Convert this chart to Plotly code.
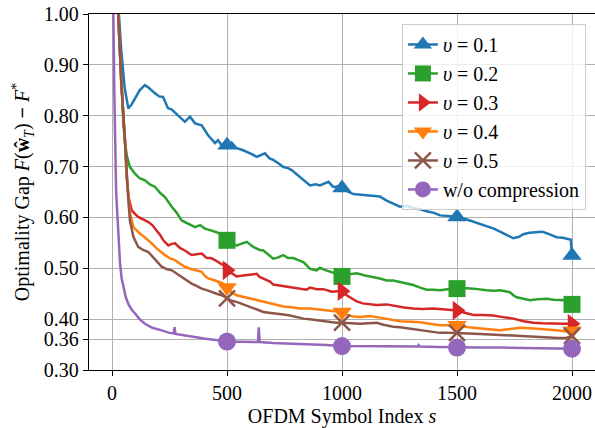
import plotly.graph_objects as go

# ---- data: optimality gap vs. OFDM symbol index ----
MARK_S = [500, 1000, 1500, 2000]

s_v01 = [0, 12, 27, 40, 55, 71, 85, 100, 120, 143, 160, 187, 205, 222, 243, 260, 274, 295, 317,
         339, 361, 390, 417, 448, 461, 481, 500, 520, 542, 565, 586, 610, 629, 645, 665, 685, 701,
         725, 745, 765, 781, 800, 817, 840, 861, 885, 904, 925, 941, 962, 980, 1000, 1020, 1049,
         1078, 1107, 1136, 1165, 1194, 1223, 1252, 1280, 1310, 1340, 1368, 1400, 1426, 1460, 1500,
         1530, 1557, 1590, 1629, 1660, 1687, 1715, 1745, 1770, 1788, 1815, 1846, 1870, 1890, 1915,
         1933, 1960, 1977, 1995, 2000]
gap_v01 = [1.9, 1.25, 1.02, 0.93, 0.855, 0.814, 0.822, 0.835, 0.85, 0.86, 0.855, 0.844, 0.838,
           0.837, 0.815, 0.812, 0.806, 0.798, 0.788, 0.798, 0.785, 0.781, 0.762, 0.746, 0.752, 0.739,
           0.742, 0.747, 0.736, 0.733, 0.729, 0.724, 0.719, 0.722, 0.726, 0.716, 0.713, 0.706, 0.699,
           0.697, 0.693, 0.686, 0.680, 0.672, 0.663, 0.665, 0.663, 0.667, 0.670, 0.660, 0.661, 0.658,
           0.652, 0.646, 0.645, 0.644, 0.643, 0.641, 0.633, 0.627, 0.621, 0.623, 0.618, 0.616, 0.612,
           0.609, 0.604, 0.603, 0.601, 0.598, 0.594, 0.589, 0.584, 0.578, 0.572, 0.566, 0.559, 0.562,
           0.567, 0.570, 0.571, 0.572, 0.569, 0.564, 0.561, 0.560, 0.558, 0.556, 0.525]

s_v02 = [0, 12, 27, 40, 50, 57, 65, 78, 100, 120, 143, 165, 187, 210, 230, 260, 280, 303, 332,
         361, 383, 404, 426, 455, 475, 500, 520, 542, 565, 586, 614, 643, 658, 680, 701, 720, 745,
         765, 788, 810, 832, 846, 861, 890, 904, 925, 948, 970, 1000, 1020, 1040, 1064, 1100, 1136,
         1165, 1194, 1223, 1252, 1280, 1310, 1340, 1368, 1400, 1426, 1460, 1500, 1530, 1571, 1600,
         1629, 1660, 1687, 1710, 1730, 1745, 1759, 1790, 1817, 1850, 1890, 1920, 1948, 1975, 1995,
         2000]
gap_v02 = [1.9, 1.25, 1.0, 0.87, 0.78, 0.746, 0.72, 0.699, 0.686, 0.677, 0.673, 0.665, 0.660,
           0.648, 0.640, 0.621, 0.610, 0.594, 0.588, 0.581, 0.585, 0.578, 0.575, 0.571, 0.566, 0.555,
           0.548, 0.545, 0.548, 0.552, 0.542, 0.536, 0.535, 0.526, 0.519, 0.521, 0.526, 0.520, 0.520,
           0.516, 0.512, 0.506, 0.499, 0.496, 0.501, 0.497, 0.494, 0.490, 0.484, 0.490, 0.489, 0.490,
           0.486, 0.483, 0.480, 0.476, 0.476, 0.473, 0.470, 0.467, 0.462, 0.458, 0.458, 0.457, 0.459,
           0.460, 0.461, 0.460, 0.458, 0.457, 0.456, 0.457, 0.455, 0.453, 0.447, 0.443, 0.440, 0.437,
           0.439, 0.440, 0.438, 0.437, 0.437, 0.437, 0.429]

s_v03 = [0, 12, 27, 40, 57, 64, 72, 86, 100, 114, 135, 158, 175, 194, 210, 223, 245, 260, 274,
         295, 317, 346, 370, 390, 412, 430, 448, 470, 484, 500, 520, 542, 570, 600, 629, 642, 665,
         687, 701, 730, 774, 817, 846, 861, 890, 919, 955, 980, 1000, 1020, 1049, 1064, 1090, 1122,
         1150, 1194, 1237, 1270, 1310, 1350, 1397, 1440, 1470, 1500, 1530, 1571, 1610, 1658, 1700,
         1745, 1790, 1832, 1870, 1919, 1960, 1995, 2000]
gap_v03 = [1.9, 1.25, 1.0, 0.87, 0.746, 0.68, 0.64, 0.614, 0.607, 0.601, 0.596, 0.591, 0.585,
           0.575, 0.565, 0.555, 0.545, 0.548, 0.549, 0.540, 0.535, 0.526, 0.528, 0.529, 0.520, 0.520,
           0.516, 0.510, 0.506, 0.496, 0.490, 0.484, 0.486, 0.487, 0.489, 0.483, 0.479, 0.474, 0.468,
           0.466, 0.462, 0.459, 0.458, 0.462, 0.459, 0.459, 0.454, 0.455, 0.455, 0.447, 0.440, 0.435,
           0.431, 0.429, 0.428, 0.429, 0.425, 0.423, 0.421, 0.420, 0.421, 0.419, 0.418, 0.417, 0.413,
           0.408, 0.408, 0.407, 0.404, 0.401, 0.396, 0.393, 0.392, 0.391, 0.391, 0.391, 0.391]

s_v04 = [0, 12, 27, 40, 57, 64, 72, 80, 93, 110, 122, 140, 158, 175, 194, 212, 230, 250, 274,
         296, 317, 340, 361, 390, 405, 419, 448, 470, 484, 500, 520, 542, 570, 600, 630, 658, 690,
         716, 745, 774, 817, 860, 904, 950, 1000, 1025, 1049, 1078, 1122, 1165, 1194, 1230, 1252,
         1300, 1339, 1380, 1426, 1460, 1500, 1550, 1600, 1640, 1687, 1730, 1774, 1820, 1861, 1900,
         1933, 1970, 1995, 2000]
gap_v04 = [1.9, 1.25, 1.0, 0.87, 0.746, 0.68, 0.64, 0.605, 0.581, 0.573, 0.568, 0.562, 0.555,
           0.548, 0.539, 0.532, 0.526, 0.520, 0.516, 0.509, 0.503, 0.499, 0.496, 0.493, 0.484, 0.480,
           0.476, 0.472, 0.470, 0.462, 0.453, 0.447, 0.444, 0.440, 0.437, 0.434, 0.430, 0.427, 0.425,
           0.424, 0.421, 0.421, 0.419, 0.417, 0.414, 0.408, 0.405, 0.404, 0.406, 0.403, 0.401, 0.398,
           0.396, 0.395, 0.394, 0.391, 0.388, 0.388, 0.388, 0.384, 0.381, 0.380, 0.378, 0.381, 0.383,
           0.382, 0.381, 0.379, 0.378, 0.376, 0.373, 0.377]

s_v05 = [0, 12, 27, 40, 57, 64, 71, 78, 93, 114, 135, 158, 180, 200, 216, 240, 260, 280, 303,
         325, 346, 370, 390, 412, 433, 455, 477, 500, 520, 542, 570, 600, 630, 658, 690, 716, 745,
         774, 800, 832, 860, 890, 920, 948, 975, 1000, 1040, 1078, 1115, 1151, 1180, 1223, 1252,
         1300, 1339, 1380, 1426, 1460, 1500, 1550, 1600, 1640, 1687, 1730, 1774, 1820, 1861, 1900,
         1940, 1975, 2000]
gap_v05 = [1.9, 1.25, 1.0, 0.87, 0.746, 0.673, 0.634, 0.594, 0.562, 0.542, 0.536, 0.532, 0.522,
           0.511, 0.503, 0.498, 0.496, 0.490, 0.483, 0.477, 0.470, 0.465, 0.460, 0.457, 0.453, 0.450,
           0.447, 0.441, 0.436, 0.434, 0.429, 0.424, 0.419, 0.414, 0.412, 0.411, 0.409, 0.407, 0.404,
           0.401, 0.400, 0.398, 0.396, 0.394, 0.393, 0.393, 0.392, 0.391, 0.392, 0.393, 0.389, 0.385,
           0.384, 0.381, 0.378, 0.376, 0.373, 0.373, 0.373, 0.372, 0.371, 0.370, 0.368, 0.368, 0.367,
           0.366, 0.365, 0.364, 0.363, 0.363, 0.367]

s_full = [0, 3, 6, 10, 13, 18, 27, 35, 42, 49, 60, 71, 85, 100, 120, 143, 175, 216, 250, 268,
          272, 276, 300, 330, 361, 400, 450, 491, 500, 550, 600, 635, 638, 642, 700, 780, 850, 930,
          1000, 1080, 1160, 1250, 1330, 1333, 1340, 1420, 1500, 1600, 1700, 1800, 1900, 2000]
gap_full = [2.5, 1.2, 1.0, 0.85, 0.73, 0.65, 0.575, 0.509, 0.48, 0.463, 0.443, 0.430, 0.419,
            0.411, 0.400, 0.391, 0.383, 0.378, 0.373, 0.372, 0.384, 0.371, 0.369, 0.367, 0.365,
            0.362, 0.359, 0.358, 0.356, 0.356, 0.355, 0.355, 0.384, 0.355, 0.353, 0.352, 0.350,
            0.349, 0.347, 0.347, 0.347, 0.346, 0.346, 0.349, 0.346, 0.345, 0.344, 0.344, 0.344,
            0.343, 0.343, 0.342]

y_ticks = [0.30, 0.36, 0.40, 0.50, 0.60, 0.70, 0.80, 0.90, 1.00]
x_ticks = [0, 500, 1000, 1500, 2000]

series = [
    ("<i>υ</i> = 0.1", s_v01, gap_v01, "#1f77b4", "triangle-up", 17),
    ("<i>υ</i> = 0.2", s_v02, gap_v02, "#2ca02c", "square", 17),
    ("<i>υ</i> = 0.3", s_v03, gap_v03, "#d62728", "triangle-right", 17),
    ("<i>υ</i> = 0.4", s_v04, gap_v04, "#ff7f0e", "triangle-down", 17),
    ("<i>υ</i> = 0.5", s_v05, gap_v05, "#8c564b", "x-thin", 16),
    ("w/o compression", s_full, gap_full, "#9467bd", "circle", 18),
]

FONT = "'Liberation Serif', 'Times New Roman', Times, serif"
fig = go.Figure()

for name, xs, ys, color, symbol, msize in series:
    is_open = symbol == "x-thin"
    marker = dict(symbol=symbol, size=msize, color=color,
                  line=dict(width=2.5 if is_open else 0, color=color))
    # curve
    fig.add_trace(go.Scatter(x=xs, y=ys, mode="lines", showlegend=False,
                             line=dict(color=color, width=2.5), hoverinfo="skip"))
    # markers every 500 symbols
    lookup = dict(zip(xs, ys))
    fig.add_trace(go.Scatter(x=MARK_S, y=[lookup[m] for m in MARK_S], mode="markers",
                             showlegend=False, marker=marker, hoverinfo="skip"))
    # legend entry
    fig.add_trace(go.Scatter(x=[None], y=[None], mode="lines+markers", name=name,
                             line=dict(color=color, width=2.5), marker=marker))

axis_common = dict(showline=True, linecolor="black", linewidth=1.3, mirror=True,
                   ticks="outside", ticklen=5, tickwidth=1.3, tickcolor="black",
                   showgrid=True, gridcolor="#b0b0b0", gridwidth=1, zeroline=False,
                   tickfont=dict(family=FONT, size=20, color="black"))

fig.update_xaxes(range=[-100, 2100], tickvals=x_ticks, **axis_common,
                 title=dict(text="OFDM Symbol Index <i>s</i>", standoff=6,
                            font=dict(family=FONT, size=20, color="black")))
fig.update_yaxes(range=[0.30, 1.00], tickvals=y_ticks, tickformat=".2f", **axis_common,
                 title=dict(text="Optimality Gap <i>F</i>(<b>ŵ</b><sub><i>T</i></sub>) <b>−</b> <i>F</i><sup>*</sup>",
                            standoff=8, font=dict(family=FONT, size=20, color="black")))

fig.update_layout(
    width=595, height=428,
    margin=dict(l=89, r=0, t=14, b=58, autoexpand=False),
    paper_bgcolor="white", plot_bgcolor="white",
    font=dict(family=FONT, size=20, color="black"),
    legend=dict(x=0.982, y=0.972, xanchor="right", yanchor="top",
                bgcolor="rgba(255,255,255,0.8)", bordercolor="#cccccc", borderwidth=1,
                font=dict(family=FONT, size=20, color="black")),
)

fig.write_html("out.html")
